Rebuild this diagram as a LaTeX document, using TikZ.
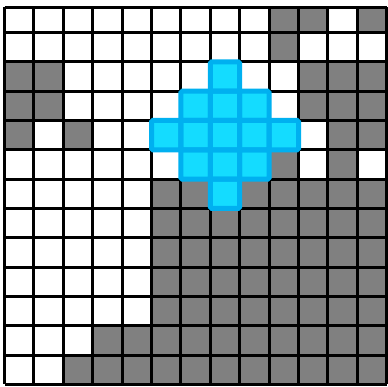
\documentclass[tikz,border=0pt]{standalone}
\definecolor{cellgray}{RGB}{128,128,128}
\definecolor{cyanfill}{RGB}{20,220,255}
\definecolor{cyanedge}{RGB}{0,176,240}
\newcommand\gx[1]{\fpeval{4.5+29.4*(#1)}}
\newcommand\gy[1]{\fpeval{max(7,32.5+29.33*((#1)-1))}}
\tikzset{
  graycell/.style={fill=cellgray},
  gridline/.style={draw=black,line width=3pt},
  cyancell/.style={fill=cyanfill},
  cyanborder/.style={draw=cyanedge,line width=5pt,rounded corners=1.5pt}
}
\begin{document}
\begin{tikzpicture}[x=1pt,y=-1pt]
\useasboundingbox (0,0) rectangle (388,386);
\fill[white] (0,0) rectangle (388,386);
% gray cells
\foreach \c/\r in {9/0,10/0,12/0,9/1,0/2,1/2,10/2,11/2,12/2,0/3,1/3,10/3,11/3,12/3,0/4,2/4,11/4,12/4,9/5,11/5,5/6,6/6,8/6,9/6,10/6,11/6,12/6}
  \path[graycell] ({\gx{\c}},{\gy{\r}}) rectangle ({\gx{\c+1}},{\gy{\r+1}});
\foreach \r in {7,8,9,10}
  \path[graycell] ({\gx{5}},{\gy{\r}}) rectangle ({\gx{13}},{\gy{\r+1}});
\path[graycell] ({\gx{3}},{\gy{11}}) rectangle ({\gx{13}},{\gy{12}});
\path[graycell] ({\gx{2}},{\gy{12}}) rectangle ({\gx{13}},{\gy{13}});
% grid
\foreach \i in {0,...,13} {
  \draw[gridline] ({\gx{\i}},{\gy{0}}) -- ({\gx{\i}},{\gy{13}});
  \draw[gridline] ({\gx{0}},{\gy{\i}}) -- ({\gx{13}},{\gy{\i}});
}
% cyan cells
\def\cyanlist{7/2,6/3,7/3,8/3,5/4,6/4,7/4,8/4,9/4,6/5,7/5,8/5,7/6}
\foreach \c/\r in \cyanlist
  \path[cyancell] ({\gx{\c}},{\gy{\r}}) rectangle ({\gx{\c+1}},{\gy{\r+1}});
\foreach \c/\r in \cyanlist
  \draw[cyanborder] ({\gx{\c}},{\gy{\r}}) rectangle ({\gx{\c+1}},{\gy{\r+1}});
\end{tikzpicture}
\end{document}
